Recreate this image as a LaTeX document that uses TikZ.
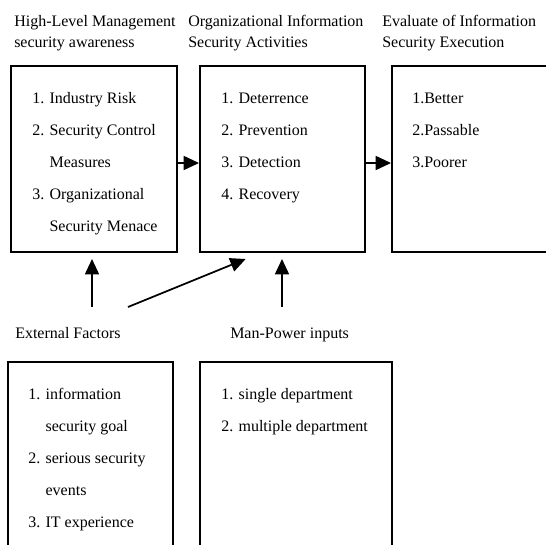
\documentclass[tikz,border=0pt]{standalone}
\usepackage{fontspec}
\setmainfont{Liberation Serif}
\usepackage{tikz}
\usetikzlibrary{fit}
\usetikzlibrary{arrows.meta}
\usepackage{xcolor}
\definecolor{ColLine}{RGB}{0,0,0}
\tikzstyle{BoxFrame}=[rectangle,draw=ColLine,line width=1.5pt,inner sep=0pt]
\tikzstyle{TitleText}=[anchor=base west,inner sep=0pt,align=left,
font=\fontsize{12}{15.5}\selectfont]
\tikzstyle{ItemText}=[anchor=base west,inner sep=0pt,align=left,
font=\fontsize{12}{24}\selectfont]
\tikzstyle{ArrowLink}=[ColLine,line width=1.3pt,-{Triangle[length=11.5pt,width=10.5pt]}]

\begin{document}
\begin{tikzpicture}[x=0.75pt,y=-0.75pt]
        \useasboundingbox(0,0)rectangle(546,544);
        \clip(0,0)rectangle(546,544);
        % titles (placed at the baseline of their last line)
        \node[TitleText](awaretitle)at(14,47.5){High-Level Management\\security awareness};
        \node[TitleText](activtitle)at(188,47.5){Organizational Information\\Security Activities};
        \node[TitleText](evaltitle)at(382,47.5){Evaluate of Information\\Security Execution};
        \node[TitleText](exttitle)at(15,338){External Factors};
        \node[TitleText](mantitle)at(230,338){Man-Power inputs};
        % boxes
        \node[BoxFrame,fit={(11,66)(177,252)}](aware){};
        \node[BoxFrame,fit={(200,66)(365,252)}](activ){};
        \node[BoxFrame,fit={(392,66)(580,252)}](eval){};
        \node[BoxFrame,fit={(8,362)(173,580)}](ext){};
        \node[BoxFrame,fit={(200,362)(392,580)}](man){};
        % lists
        \node[ItemText](awarelist)at(32,231){1. Industry Risk\\2. Security Control\\
            \phantom{2. }Measures\\3. Organizational\\\phantom{3. }Security Menace};
        \node[ItemText](activlist)at(221,199){1. Deterrence\\2. Prevention\\
            3. Detection\\4. Recovery};
        \node[ItemText](evallist)at(412,167){1.Better\\2.Passable\\3.Poorer};
        \node[ItemText](extlist)at(28,527){1. information\\\phantom{1. }security goal\\
            2. serious security\\\phantom{2. }events\\3. IT experience};
        \node[ItemText](manlist)at(221,431){1. single department\\2. multiple department};
        % links
        \coordinate(extfoot)at(92,307);
        \coordinate(slantfoot)at(128,307);
        \coordinate(manfoot)at(282,307);
        \draw[ArrowLink]([yshift=-3pt]aware.east)--([yshift=-3pt]activ.west);
        \draw[ArrowLink]([yshift=-3pt]activ.east)--([yshift=-3pt]eval.west);
        \draw[ArrowLink,shorten >=4.5pt](extfoot)--(extfoot|-aware.south);
        \draw[ArrowLink](slantfoot)--([xshift=35pt,yshift=-4.5pt]activ.south west);
        \draw[ArrowLink,shorten >=4.5pt](manfoot)--(manfoot|-activ.south);
    \end{tikzpicture}
\end{document}
